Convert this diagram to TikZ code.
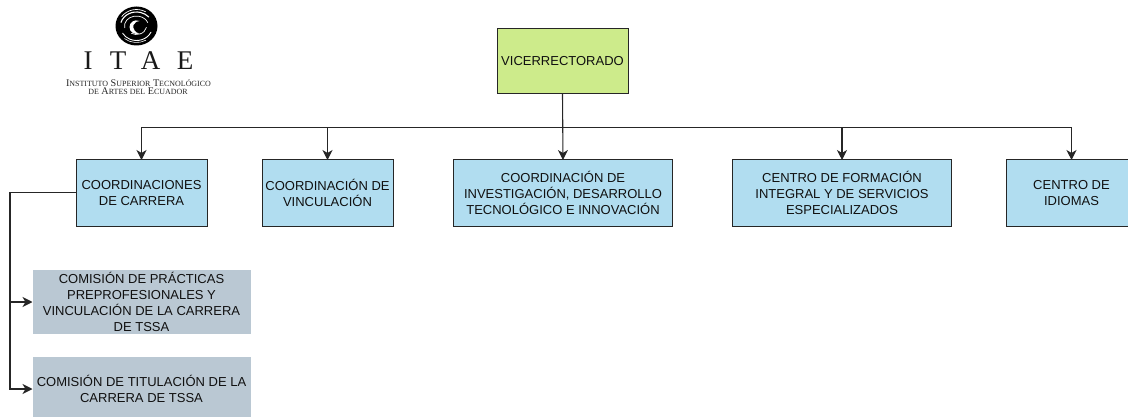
\documentclass[tikz,border=0pt]{standalone}
\usepackage{fontspec}
\setmainfont{Liberation Sans}
\newfontfamily\logofont{Liberation Serif}
\usetikzlibrary{arrows.meta}
\definecolor{boxblue}{HTML}{B1DDF0}
\definecolor{boxgreen}{HTML}{CDEB8B}
\definecolor{boxgray}{HTML}{BAC8D3}
\definecolor{inkc}{HTML}{101010}
\tikzset{
  x=1pt,y=-1pt,
  base/.style={anchor=north west,align=center,text=inkc,inner sep=0pt,outer sep=0pt,
    font=\fontsize{13}{16.2}\selectfont},
  bluebox/.style={base,draw=black!85,line width=1pt,fill=boxblue},
  greenbox/.style={base,draw=black!85,line width=1pt,fill=boxgreen},
  graybox/.style={base,draw=none,fill=boxgray},
  link/.style={draw=black!85,line width=1.1pt},
  arrowlink/.style={link,-{Stealth[length=10pt,width=10pt,inset=3pt]}},
  logotext/.style={inner sep=0pt,text=black!85,align=center,font=\logofont\fontsize{10.2}{10.2}\selectfont},
  logoletter/.style={inner sep=0pt,text=black!90,font=\logofont\fontsize{27}{27}\selectfont},
  swirl/.style={draw=white,line width=0.9pt,line cap=round},
}
\begin{document}
\begin{tikzpicture}
\useasboundingbox (0,0) rectangle (1128,417);
\clip (0,0) rectangle (1128,417);
\node[greenbox,minimum width=131pt,minimum height=65pt] (vice) at (497,29) {VICERRECTORADO};
\node[bluebox,minimum width=131pt,minimum height=66pt] (carr) at (76,160) {COORDINACIONES\\DE CARRERA};
\node[bluebox,minimum width=131pt,minimum height=66pt] (vinc) at (262,160) {COORDINACIÓN DE\\VINCULACIÓN};
\node[bluebox,minimum width=219pt,minimum height=66pt] (inv) at (453.5,160) {COORDINACIÓN DE\\INVESTIGACIÓN, DESARROLLO\\TECNOLÓGICO E INNOVACIÓN};
\node[bluebox,minimum width=219pt,minimum height=66pt] (form) at (732.5,160) {CENTRO DE FORMACIÓN\\INTEGRAL Y DE SERVICIOS\\ESPECIALIZADOS};
\node[bluebox,minimum width=131pt,minimum height=66pt] (idio) at (1006,160) {CENTRO DE\\IDIOMAS};
\node[graybox,minimum width=218pt,minimum height=64pt] (prac) at (32.5,270) {COMISIÓN DE PRÁCTICAS\\PREPROFESIONALES Y\\VINCULACIÓN DE LA CARRERA\\DE TSSA};
\node[graybox,minimum width=218pt,minimum height=64pt] (titu) at (32.5,357) {COMISIÓN DE TITULACIÓN DE LA\\CARRERA DE TSSA};
\coordinate (bus) at (563,127.5);
\coordinate (side) at (10,192.7);
\draw[arrowlink] (vice.south) -- (inv.north);
\draw[arrowlink] (bus) -| (carr.north);
\draw[arrowlink] (bus) -| (vinc.north);
\draw[arrowlink] (bus) -| (form.north);
\draw[arrowlink] (bus) -| (idio.north);
\draw[arrowlink] (carr.west |- side) -- (side) |- (prac.west);
\draw[arrowlink] (carr.west |- side) -- (side) |- (titu.west);
% logo: swirl disc with an eye
\begin{scope}[shift={(136.5,26)}]
  \fill[black] (0,0) ellipse (21 and 19.5);
  \draw[swirl,line width=1.1pt] (195:16 and 14) arc (195:320:16 and 14);
  \draw[swirl,line width=0.7pt] (215:18 and 16.5) arc (215:300:18 and 16.5);
  \draw[swirl,line width=0.9pt] (25:16 and 14.5) arc (25:150:16 and 14.5);
  \draw[swirl,line width=0.6pt] (60:18.5 and 16.5) arc (60:130:18.5 and 16.5);
  \draw[swirl,line width=0.7pt] (170:12 and 10) arc (170:340:12 and 10);
  \fill[white] (-7,1) .. controls (-7,7) and (-1,9) .. (3,7.5)
    .. controls (-1,7) and (-4,3) .. (-3,-1)
    .. controls (-2,-4) and (1,-5) .. (3,-5)
    .. controls (-2,-7) and (-7,-4) .. (-7,1) -- cycle;
  \draw[swirl,line width=0.7pt] (10:10 and 8.5) arc (10:120:10 and 8.5);
\end{scope}
\node[logoletter] (ltr1) at (88,61) {I};
\node[logoletter] (ltr2) at (118,61) {T};
\node[logoletter] (ltr3) at (150.5,61) {A};
\node[logoletter] (ltr4) at (185,61) {E};
\node[logotext] (lg1) at (138.5,83) {I\scalebox{0.78}{NSTITUTO} S\scalebox{0.78}{UPERIOR} T\scalebox{0.78}{ECNOLÓGICO}};
\node[logotext] (lg2) at (138,91.5) {\scalebox{0.78}{DE} A\scalebox{0.78}{RTES DEL} E\scalebox{0.78}{CUADOR}};
\end{tikzpicture}
\end{document}
